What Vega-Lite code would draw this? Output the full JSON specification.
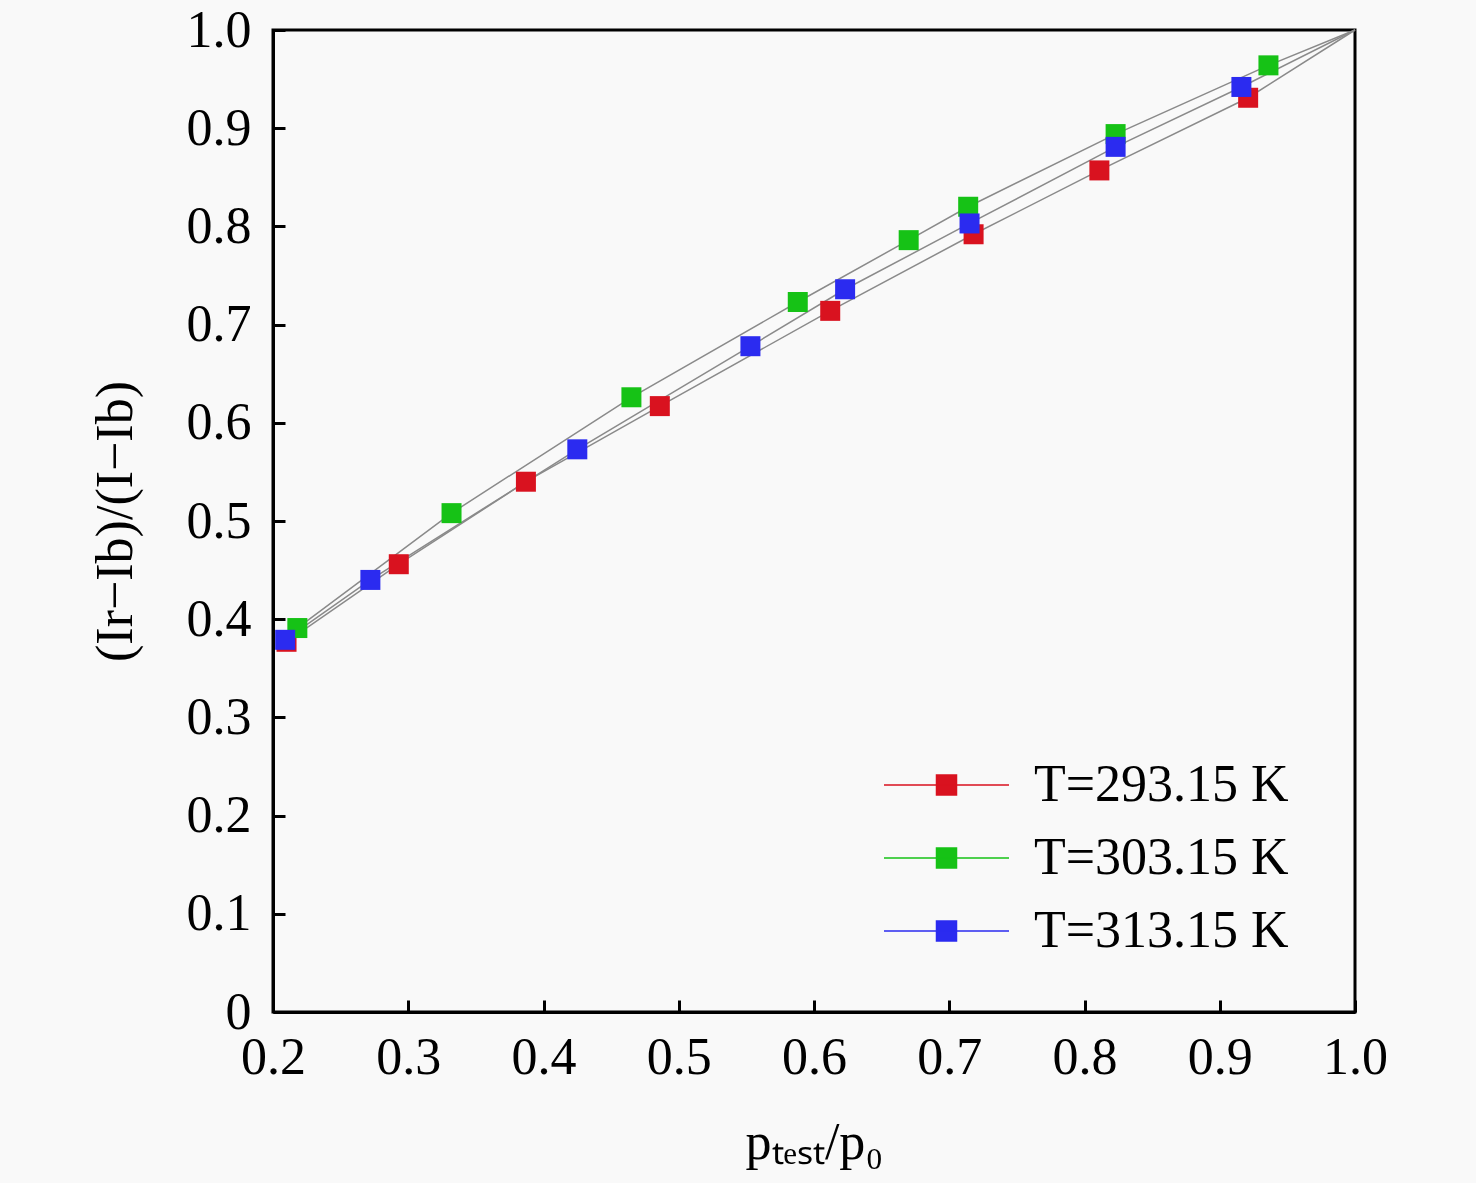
{
  "$schema": "https://vega.github.io/schema/vega-lite/v6.json",
  "width": 1082,
  "height": 982,
  "autosize": {"type": "none"},
  "padding": {"left": 273, "top": 30, "right": 121, "bottom": 171},
  "background": "#f9f9f9",
  "config": {
    "font": "Liberation Serif",
    "view": {"stroke": "#000000", "strokeWidth": 3},
    "axis": {
      "grid": false,
      "domainColor": "#000000",
      "domainWidth": 3,
      "tickColor": "#000000",
      "tickWidth": 3,
      "tickSize": -12,
      "labelFlush": false,
      "labelFont": "Liberation Serif",
      "labelFontSize": 52,
      "labelColor": "#000000",
      "titleFont": "Liberation Serif",
      "titleFontSize": 52,
      "titleFontWeight": "normal",
      "titleColor": "#000000"
    }
  },
  "data": {
    "values": [
      {"series": "T=293.15 K", "x": 0.210, "y": 0.377},
      {"series": "T=293.15 K", "x": 0.293, "y": 0.456},
      {"series": "T=293.15 K", "x": 0.387, "y": 0.540},
      {"series": "T=293.15 K", "x": 0.486, "y": 0.617},
      {"series": "T=293.15 K", "x": 0.612, "y": 0.714},
      {"series": "T=293.15 K", "x": 0.718, "y": 0.792},
      {"series": "T=293.15 K", "x": 0.811, "y": 0.857},
      {"series": "T=293.15 K", "x": 0.921, "y": 0.931},
      {"series": "T=293.15 K", "x": 1.0, "y": 1.0},
      {"series": "T=303.15 K", "x": 0.218, "y": 0.391},
      {"series": "T=303.15 K", "x": 0.332, "y": 0.508},
      {"series": "T=303.15 K", "x": 0.465, "y": 0.626},
      {"series": "T=303.15 K", "x": 0.588, "y": 0.723},
      {"series": "T=303.15 K", "x": 0.670, "y": 0.786},
      {"series": "T=303.15 K", "x": 0.714, "y": 0.820},
      {"series": "T=303.15 K", "x": 0.823, "y": 0.894},
      {"series": "T=303.15 K", "x": 0.936, "y": 0.964},
      {"series": "T=303.15 K", "x": 1.0, "y": 1.0},
      {"series": "T=313.15 K", "x": 0.209, "y": 0.379},
      {"series": "T=313.15 K", "x": 0.272, "y": 0.440},
      {"series": "T=313.15 K", "x": 0.425, "y": 0.573},
      {"series": "T=313.15 K", "x": 0.553, "y": 0.678},
      {"series": "T=313.15 K", "x": 0.623, "y": 0.736},
      {"series": "T=313.15 K", "x": 0.715, "y": 0.803},
      {"series": "T=313.15 K", "x": 0.823, "y": 0.881},
      {"series": "T=313.15 K", "x": 0.916, "y": 0.942},
      {"series": "T=313.15 K", "x": 1.0, "y": 1.0}
    ]
  },
  "encoding": {
    "x": {
      "field": "x",
      "type": "quantitative",
      "scale": {"domain": [0.2, 1.0], "nice": false, "zero": false},
      "axis": {
        "title": "pₜₑₛₜ/p₀",
        "values": [0.2, 0.3, 0.4, 0.5, 0.6, 0.7, 0.8, 0.9, 1.0],
        "format": ".1f",
        "labelPadding": 32,
        "titlePadding": 34
      }
    },
    "y": {
      "field": "y",
      "type": "quantitative",
      "scale": {"domain": [0, 1.0], "nice": false},
      "axis": {
        "title": "(Ir−Ib)/(I−Ib)",
        "values": [0, 0.1, 0.2, 0.3, 0.4, 0.5, 0.6, 0.7, 0.8, 0.9, 1.0],
        "labelExpr": "datum.value == 0 ? '0' : format(datum.value, '.1f')",
        "labelPadding": 34,
        "titlePadding": 44
      }
    }
  },
  "layer": [
    {
      "mark": {"type": "line", "color": "#8a8a8a", "strokeWidth": 1.5},
      "encoding": {"detail": {"field": "series", "type": "nominal"}}
    },
    {
      "transform": [{"filter": "datum.x < 1"}],
      "mark": {"type": "square", "size": 400, "opacity": 1, "filled": true},
      "encoding": {
        "color": {
          "field": "series",
          "type": "nominal",
          "scale": {
            "domain": ["T=293.15 K", "T=303.15 K", "T=313.15 K"],
            "range": ["#d9121f", "#16c216", "#2b2bf0"]
          },
          "legend": {
            "title": null,
            "orient": "none",
            "legendX": 610,
            "legendY": 725,
            "symbolType": "M-1,0H1M-0.16,-0.16H0.16V0.16H-0.16Z",
            "symbolSize": 15625,
            "symbolStrokeWidth": 1.5,
            "symbolOpacity": 1,
            "clipHeight": 60,
            "rowPadding": 13,
            "labelFont": "Liberation Serif",
            "labelFontSize": 52,
            "labelLimit": 0,
            "labelColor": "#000000",
            "labelOffset": 24,
            "encode": {
              "symbols": {
                "update": {
                  "stroke": {"scale": "color", "field": "value"}
                }
              }
            }
          }
        }
      }
    }
  ]
}
